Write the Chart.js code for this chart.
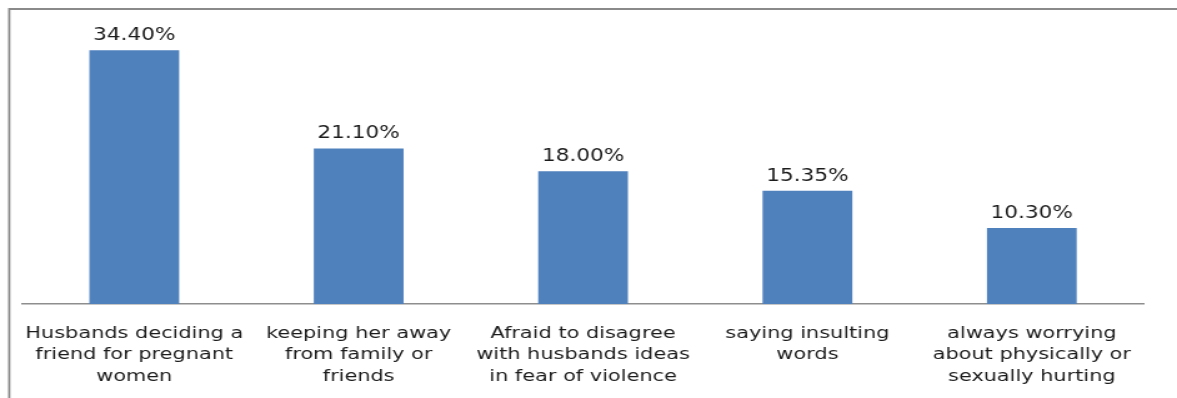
<!DOCTYPE html>
<html>
<head>
<meta charset="utf-8">
<script src="https://cdn.jsdelivr.net/npm/chart.js@4/dist/chart.umd.min.js"></script>
<style>
  html, body { margin: 0; padding: 0; background: #fff; }
</style>
</head>
<body>
<!-- the source picture is stretched sideways, so the canvas is too -->
<canvas id="chart" width="942" height="398" style="display:block;width:1177px;height:398px"></canvas>
<script>
const categories = [
  ['Husbands deciding a', 'friend for pregnant', 'women'],
  ['keeping her away', 'from family or', 'friends'],
  ['Afraid to disagree', 'with husbands ideas', 'in fear of violence'],
  ['saying insulting', 'words'],
  ['always worrying', 'about physically or', 'sexually hurting']
];
const values = [34.40, 21.10, 18.00, 15.35, 10.30];

const FONT = 'DejaVu Sans';

// outer frame of the original image (only top and left edges are visible)
const framePlugin = {
  id: 'frame',
  beforeDraw: chart => {
    const ctx = chart.ctx;
    ctx.save();
    ctx.strokeStyle = '#8a8a8a';
    ctx.lineWidth = 1.8;
    ctx.beginPath();
    ctx.moveTo(7.4, 420);
    ctx.lineTo(7.4, 9);
    ctx.lineTo(chart.width + 5, 9);
    ctx.stroke();
    ctx.restore();
  }
};

// percentage labels above each bar
const valueLabels = {
  id: 'valueLabels',
  afterDatasetsDraw: chart => {
    const ctx = chart.ctx;
    const meta = chart.getDatasetMeta(0);
    ctx.save();
    ctx.font = '17.3px "' + FONT + '"';
    ctx.fillStyle = '#1c1c1c';
    ctx.textAlign = 'center';
    ctx.textBaseline = 'alphabetic';
    meta.data.forEach((bar, i) => {
      ctx.fillText(values[i].toFixed(2) + '%', bar.x, bar.y - 10);
    });
    ctx.restore();
  }
};

new Chart(document.getElementById('chart'), {
  type: 'bar',
  plugins: [framePlugin, valueLabels],
  data: {
    labels: categories,
    datasets: [{
      data: values,
      backgroundColor: '#4f81bd',
      borderWidth: 0,
      categoryPercentage: 1,
      barPercentage: 0.4
    }]
  },
  options: {
    responsive: false,
    animation: false,
    devicePixelRatio: 1,
    layout: {
      padding: { left: 17.6, right: 26.4, top: 9, bottom: 0 }
    },
    scales: {
      x: {
        afterFit: s => { s.height = 94; },
        grid: { display: false, drawTicks: false },
        border: { display: true, color: '#8e8e8e', width: 1.5 },
        ticks: {
          autoSkip: false,
          maxRotation: 0,
          padding: 18.5,
          color: '#1c1c1c',
          font: { family: FONT, size: 16.7, lineHeight: 1.29 }
        }
      },
      y: {
        display: false,
        min: 0,
        max: 40
      }
    },
    plugins: {
      legend: { display: false },
      tooltip: { enabled: false }
    }
  }
});
</script>
</body>
</html>
